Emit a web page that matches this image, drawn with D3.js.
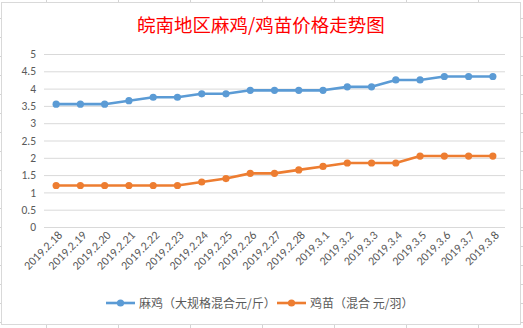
<!DOCTYPE html>
<html><head><meta charset="utf-8">
<script src="https://cdn.jsdelivr.net/npm/d3@7"></script>
<style>
html,body{margin:0;padding:0;background:#fff;}
svg{display:block;}
</style></head>
<body>
<svg id="c" width="523" height="328"></svg>
<script>
const categories = ["2019.2.18","2019.2.19","2019.2.20","2019.2.21","2019.2.22","2019.2.23","2019.2.24","2019.2.25","2019.2.26","2019.2.27","2019.2.28","2019.3.1","2019.3.2","2019.3.3","2019.3.4","2019.3.5","2019.3.6","2019.3.7","2019.3.8"];
const maji = [3.55,3.55,3.55,3.65,3.75,3.75,3.85,3.85,3.95,3.95,3.95,3.95,4.05,4.05,4.25,4.25,4.35,4.35,4.35];
const jimiao = [1.2,1.2,1.2,1.2,1.2,1.2,1.3,1.4,1.55,1.55,1.65,1.75,1.85,1.85,1.85,2.05,2.05,2.05,2.05];
const yTicks = [0,0.5,1,1.5,2,2.5,3,3.5,4,4.5,5];
const seriesNames = ["麻鸡（大规格混合元/斤）","鸡苗（混合 元/羽）"];
const title = "皖南地区麻鸡/鸡苗价格走势图";

const svg = d3.select("#c");
const gridCol = "#d9d9d9";
const textCol = "#595959";
const colors = ["#5B9BD5","#ED7D31"];

// spreadsheet backdrop lines outside chart
const bg = svg.append("g").attr("stroke","#d4d4d4").attr("stroke-width",1);
d3.range(46, 523, 72).forEach(x=>{
  bg.append("line").attr("x1",x+0.5).attr("x2",x+0.5).attr("y1",0).attr("y2",2);
  bg.append("line").attr("x1",x+0.5).attr("x2",x+0.5).attr("y1",325).attr("y2",328);
});
d3.range(18, 328, 19).forEach(y=>{
  bg.append("line").attr("x1",0).attr("x2",1).attr("y1",y+0.5).attr("y2",y+0.5);
  bg.append("line").attr("x1",521).attr("x2",523).attr("y1",y+0.5).attr("y2",y+0.5);
});

// chart area
svg.append("rect").attr("x",1.5).attr("y",2.5).attr("width",519).attr("height",322)
  .attr("fill","#fff").attr("stroke",gridCol).attr("stroke-width",1);

svg.append("text").attr("x",261).attr("y",32).attr("text-anchor","middle")
  .attr("font-family","'Noto Sans CJK SC', sans-serif").attr("font-size",18.5)
  .attr("fill","#FF0000").text(title);

const plotL = 44, plotR = 505, plotT = 54, plotB = 227;
const x = d3.scaleBand().domain(categories).range([plotL, plotR]);
const y = d3.scaleLinear().domain([0,5]).range([plotB, plotT]);

// gridlines
const yAxis = d3.axisLeft(y).tickValues(yTicks).tickSize(-(plotR-plotL)).tickPadding(8)
  .tickFormat(d=>d3.format("")(d));
const gy = svg.append("g").attr("transform",`translate(${plotL},0)`).call(yAxis);
gy.select(".domain").remove();
gy.selectAll(".tick line").attr("stroke",gridCol);
gy.selectAll(".tick text").attr("fill",textCol).attr("font-size",11.5)
  .attr("font-family","Carlito, 'Liberation Sans', sans-serif");

// x axis labels
const xAxis = d3.axisBottom(x).tickSize(0).tickPadding(0);
const gx = svg.append("g").attr("transform",`translate(0,${plotB})`).call(xAxis);
gx.select(".domain").remove();
gx.selectAll(".tick text")
  .attr("fill",textCol).attr("font-size",12)
  .attr("font-family","Carlito, 'Liberation Sans', sans-serif")
  .attr("text-anchor","end")
  .attr("dy",0)
  .attr("transform","translate(7,9) rotate(-45)");

const cx = d => x(d) + x.bandwidth()/2;
[maji, jimiao].forEach((vals,i)=>{
  const line = d3.line().x((d,j)=>cx(categories[j])).y(d=>y(d));
  svg.append("path").datum(vals).attr("d",line).attr("fill","none")
    .attr("stroke",colors[i]).attr("stroke-width",2.6).attr("stroke-linejoin","round");
  svg.append("g").selectAll("circle").data(vals).join("circle")
    .attr("cx",(d,j)=>cx(categories[j])).attr("cy",d=>y(d)).attr("r",3.6)
    .attr("fill",colors[i]);
});

// legend
const legendY = 303;
const lg = [{x1:106,x2:135,tx:139},{x1:277,x2:306,tx:310}];
lg.forEach((l,i)=>{
  svg.append("line").attr("x1",l.x1).attr("x2",l.x2).attr("y1",legendY).attr("y2",legendY)
    .attr("stroke",colors[i]).attr("stroke-width",2.6);
  svg.append("circle").attr("cx",(l.x1+l.x2)/2).attr("cy",legendY).attr("r",3.6).attr("fill",colors[i]);
  svg.append("text").attr("x",l.tx).attr("y",legendY+4.5)
    .attr("font-family","'Noto Sans CJK SC', sans-serif").attr("font-size",12)
    .attr("fill",textCol).text(seriesNames[i]);
});
</script>
</body></html>
